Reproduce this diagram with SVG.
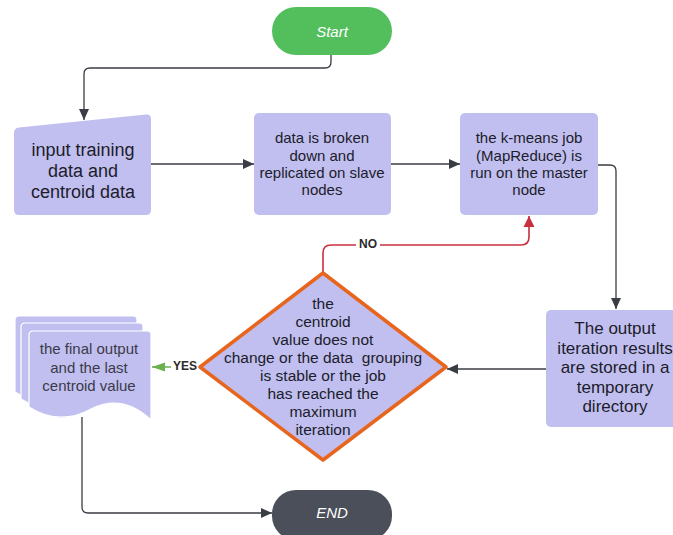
<svg xmlns="http://www.w3.org/2000/svg" width="673" height="535" viewBox="0 0 673 535">
<defs>
<marker id="ah" markerUnits="userSpaceOnUse" markerWidth="12" markerHeight="12" viewBox="0 0 12 12" refX="11" refY="6" orient="auto"><path d="M0,1 L11,6 L0,11 Z" fill="#3b3d44"/></marker>
<marker id="ahr" markerUnits="userSpaceOnUse" markerWidth="12" markerHeight="14" viewBox="0 0 12 14" refX="11" refY="7" orient="auto"><path d="M0,1.5 L11,7 L0,12.5 Z" fill="#c9303f"/></marker>
<marker id="ahg" markerUnits="userSpaceOnUse" markerWidth="14" markerHeight="12" viewBox="0 0 14 12" refX="13" refY="6" orient="auto"><path d="M0,1.5 L13,6 L0,10.5 Z" fill="#6ab04c"/></marker>
<path id="doc" d="M4,0 L118,0 Q122,0 122,4 L122,89 C102,70 82,68 62,78 C42,89 22,90 0,76 L0,4 Q0,0 4,0 Z"/>
</defs>
<style>
.box{fill:#c1bff0;}
.t{font-family:"Liberation Sans",Arial,sans-serif;fill:#1c1c2a;text-anchor:middle;dominant-baseline:central;}
.c{fill:none;stroke:#3b3d44;stroke-width:1.3;}
.lbl{font-family:"Liberation Sans",Arial,sans-serif;font-weight:bold;font-size:12px;fill:#2a2a2a;text-anchor:middle;dominant-baseline:central;}
.layer{fill:#c1bff0;stroke:#ffffff;stroke-width:1.2;}
</style>
<rect width="673" height="535" fill="#ffffff"/>
<g id="connectors">
<path class="c" d="M331,55 L331,62 Q331,68 325,68 L90,68 Q84,68 84,74 L84,120" marker-end="url(#ah)"/>
<path class="c" d="M151,164 L254,164" marker-end="url(#ah)"/>
<path class="c" d="M391,164 L460,164" marker-end="url(#ah)"/>
<path class="c" d="M598,165 L610,165 Q616,165 616,171 L616,309" marker-end="url(#ah)"/>
<path class="c" d="M546,369 L447,369" marker-end="url(#ah)"/>
<path d="M323,273 L323,253 Q323,245 331,245 L521,245 Q529,245 529,237 L529,216" fill="none" stroke="#c9303f" stroke-width="1.6" marker-end="url(#ahr)"/>
<rect x="356" y="237" width="24" height="16" fill="#ffffff"/>
<text class="lbl" x="368" y="244">NO</text>
<path d="M200,367 L152,367" fill="none" stroke="#6ab04c" stroke-width="1.6" marker-end="url(#ahg)"/>
<rect x="171" y="359" width="28" height="16" fill="#ffffff"/>
<text class="lbl" x="185" y="366">YES</text>
<path class="c" d="M82,417 L82,507 Q82,513 88,513 L272,513" marker-end="url(#ah)"/>
</g>
<g id="start">
<rect x="272" y="7" width="120" height="48" rx="24" fill="#52be5c"/>
<text class="t" x="332" y="31" style="fill:#ffffff;font-style:italic;font-size:15px">Start</text>
</g>
<g id="input">
<path class="box" d="M14,133 Q14,128 19,127.5 L146,114.5 Q151,114 151,119 L151,210 Q151,215 146,215 L19,215 Q14,215 14,210 Z"/>
<text class="t" style="font-size:18px"><tspan x="83" y="150">input training</tspan><tspan x="83" y="171">data and</tspan><tspan x="83" y="192">centroid data</tspan></text>
</g>
<g id="broken">
<rect class="box" x="254" y="113" width="137" height="102" rx="5"/>
<text class="t" style="font-size:15px"><tspan x="322" y="137">data is broken</tspan><tspan x="322" y="154.5">down and</tspan><tspan x="322" y="172">replicated on slave</tspan><tspan x="322" y="189">nodes</tspan></text>
</g>
<g id="kmeans">
<rect class="box" x="460" y="113" width="138" height="102" rx="5"/>
<text class="t" style="font-size:15px"><tspan x="529" y="137">the k-means job</tspan><tspan x="529" y="154.5">(MapReduce) is</tspan><tspan x="529" y="172">run on the master</tspan><tspan x="529" y="189">node</tspan></text>
</g>
<g id="store">
<rect class="box" x="546" y="310" width="140" height="117" rx="5"/>
<text class="t" style="font-size:17px"><tspan x="615" y="328">The output</tspan><tspan x="615" y="348">iteration results</tspan><tspan x="615" y="367">are stored in a</tspan><tspan x="615" y="387">temporary</tspan><tspan x="615" y="406">directory</tspan></text>
</g>
<g id="decision">
<polygon points="323,273 446,367 323,460 200,367" fill="#c1bff0" stroke="#e8651e" stroke-width="3.5" stroke-linejoin="round"/>
<text class="t" style="font-size:15.5px"><tspan x="323" y="303">the</tspan><tspan x="323" y="321">centroid</tspan><tspan x="323" y="339">value does not</tspan><tspan x="323" y="357" xml:space="preserve">change or the data  grouping</tspan><tspan x="323" y="375">is stable or the job</tspan><tspan x="323" y="393">has reached the</tspan><tspan x="323" y="411">maximum</tspan><tspan x="323" y="429">iteration</tspan></text>
</g>
<g id="final">
<use href="#doc" class="layer" x="15" y="316"/>
<use href="#doc" class="layer" x="21" y="323"/>
<use href="#doc" class="layer" x="29" y="331"/>
<text class="t" style="font-size:15px;fill:#3a3a48"><tspan x="89" y="348">the final output</tspan><tspan x="89" y="367">and the last</tspan><tspan x="89" y="385">centroid value</tspan></text>
</g>
<g id="end">
<rect x="272" y="490" width="120" height="50" rx="24" fill="#4a4f59"/>
<text class="t" x="332" y="512" style="fill:#ffffff;font-style:italic;font-size:15px">END</text>
</g>
</svg>
